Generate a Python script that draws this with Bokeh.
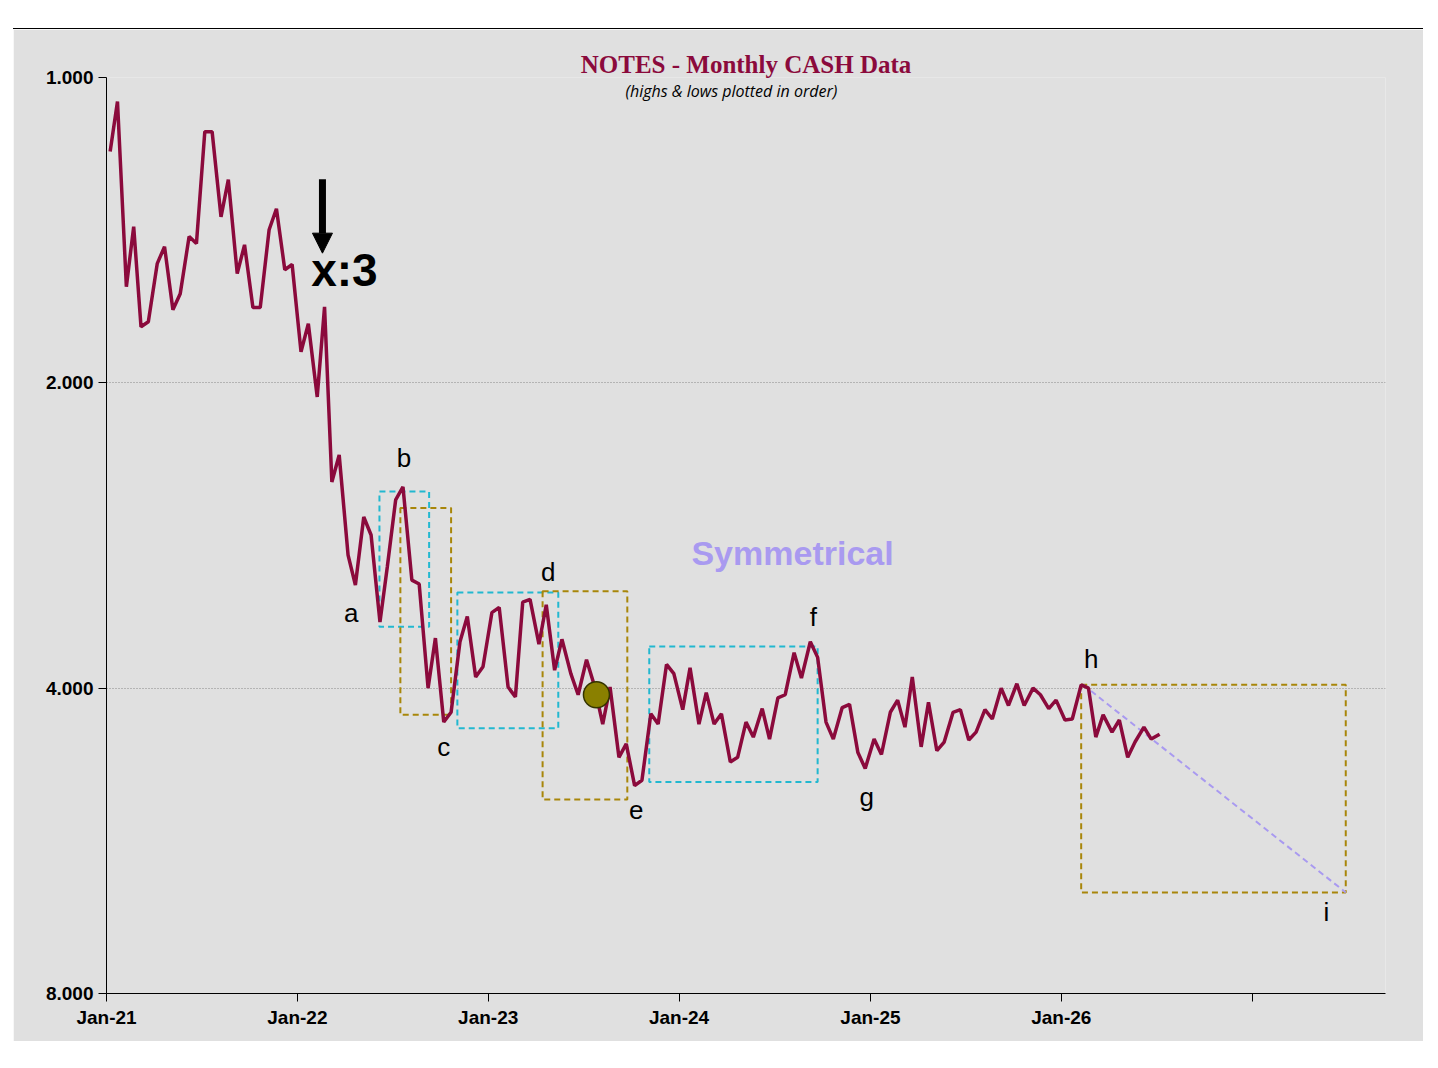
import pandas as pd
from bokeh.plotting import figure
from bokeh.layouts import column, row
from bokeh.models import Range1d, FixedTicker, Label, Arrow, NormalHead, Spacer, Title
from bokeh.embed import file_html
from bokeh.resources import INLINE

values = [1.183,1.056,1.608,1.403,1.761,1.741,1.526,1.468,1.694,1.634,1.435,1.458,1.131,1.131,1.372,1.261,
          1.561,1.462,1.686,1.686,1.413,1.347,1.547,1.529,1.864,1.749,2.065,1.683,2.505,2.356,2.957,3.165,
          2.712,2.825,3.443,3.038,2.609,2.533,3.13,3.158,4.0,3.57,4.32,4.225,3.6,3.40,3.90,3.81,
          3.37,3.33,3.99,4.08,3.29,3.27,3.62,3.31,3.84,3.58,3.87,4.06,3.75,3.96,4.34,3.99,
          4.68,4.54,4.99,4.93,4.24,4.34,3.79,3.87,4.20,3.82,4.34,4.04,4.34,4.24,4.73,4.68,
          4.32,4.47,4.19,4.49,4.09,4.06,3.69,3.91,3.60,3.73,4.32,4.49,4.18,4.15,4.63,4.80,
          4.49,4.65,4.225,4.11,4.37,3.90,4.57,4.13,4.61,4.52,4.225,4.20,4.50,4.42,4.20,4.29,
          4.0,4.16,3.96,4.16,4.0,4.06,4.19,4.11,4.30,4.29,3.97,4.0,4.47,4.25,4.42,4.30,
          4.68,4.52,4.37,4.49,4.44]
dates = list(pd.date_range("2021-01-01", periods=len(values), freq="SMS") + pd.Timedelta(days=7))

year_ticks = ["2021-01-01","2022-01-01","2023-01-01","2024-01-01","2025-01-01","2026-01-01","2027-01-01"]
year_labels = ["Jan-21","Jan-22","Jan-23","Jan-24","Jan-25","Jan-26",""]
y_ticks = [1, 2, 4, 8]
y_labels = ["1.000", "2.000", "4.000", "8.000"]

cyan_boxes = [("2022-06-07","2022-09-10",2.56,3.48),("2022-11-03","2023-05-15",3.22,4.38),("2023-11-05","2024-09-22",3.64,4.95)]
gold_boxes = [("2022-07-17","2022-10-22",2.657,4.25),("2023-04-15","2023-09-24",3.21,5.15),("2026-02-08","2027-06-29",3.97,6.36)]
letters = [("a","2022-04-14",3.37),("b","2022-07-24",2.37),("c","2022-10-08",4.57),("d","2023-04-26",3.07),
           ("e","2023-10-11",5.27),("f","2024-09-14",3.40),("g","2024-12-25",5.12),("h","2026-02-27",3.74),("i","2027-05-23",6.65)]

def ms(s):
    return pd.Timestamp(s).value / 1e6

BG = "#e0e0e0"
RED = "#8b0a3c"
p = figure(width=1410, height=1012, frame_width=1279, frame_height=915,
           x_axis_type="datetime", y_axis_type="log",
           x_range=Range1d(ms("2021-01-01"), ms("2027-09-13")), y_range=Range1d(8, 1),
           output_backend="svg", toolbar_location=None,
           background_fill_color=BG, border_fill_color=BG, outline_line_color=None,
           min_border_left=93, min_border_right=38, min_border_top=48, min_border_bottom=49,
           styles={"border-top": "1px solid black"})
p.add_layout(Title(text="NOTES - Monthly CASH Data", text_font="Liberation Serif", text_font_style="bold",
                   text_font_size="25px", align="center", text_color=RED, standoff=0, offset=0), "above")

p.xaxis.ticker = FixedTicker(ticks=[ms(t) for t in year_ticks])
p.xaxis.major_label_overrides = {ms(t): l for t, l in zip(year_ticks, year_labels)}
p.yaxis.ticker = FixedTicker(ticks=y_ticks)
p.yaxis.major_label_overrides = {t: l for t, l in zip(y_ticks, y_labels)}
for ax in (p.xaxis, p.yaxis):
    ax.axis_line_color = "black"
    ax.major_tick_line_color = "black"
    ax.minor_tick_line_color = None
    ax.major_tick_in = 0
    ax.major_tick_out = 8
    ax.major_label_text_font = "Liberation Sans"
    ax.major_label_text_font_style = "bold"
    ax.major_label_text_font_size = "19px"
    ax.major_label_text_color = "black"
p.xgrid.grid_line_color = None
p.ygrid.grid_line_color = "#888888"
p.ygrid.grid_line_dash = "1 2"

for x0, x1, y0, y1 in cyan_boxes:
    p.quad(left=ms(x0), right=ms(x1), top=y0, bottom=y1, fill_color=None, line_color="#22b8d0", line_width=2, line_dash="6 4")
for x0, x1, y0, y1 in gold_boxes:
    p.quad(left=ms(x0), right=ms(x1), top=y0, bottom=y1, fill_color=None, line_color="#a8860a", line_width=2, line_dash="6 4")

p.line([ms("2026-02-12"), ms("2027-06-29")], [3.97, 6.36], line_color="#a99af0", line_width=2, line_dash="6 4")
p.line(dates, values, line_color=RED, line_width=3.5)
p.scatter([ms("2023-07-27")], [4.06], size=26, fill_color="#8a8000", line_color="#333300", line_width=1.5)

p.add_layout(Label(x=ms("2024-04-10"), y=1.032, text="(highs & lows plotted in order)", text_font="Open Sans",
                   text_font_style="italic", text_font_size="16px", text_align="center", text_baseline="middle",
                   text_color="black"))
for t, d, v in letters:
    p.add_layout(Label(x=ms(d), y=v, text=t, text_font="Liberation Sans", text_font_size="26px",
                       text_align="center", text_baseline="middle", text_color="black"))
p.add_layout(Label(x=ms("2024-08-05"), y=2.94, text="Symmetrical", text_font="Liberation Sans", text_font_style="bold",
                   text_font_size="34px", text_align="center", text_baseline="middle", text_color="#a99af0"))
p.add_layout(Arrow(end=NormalHead(size=20, fill_color="black", line_color="black"), x_start=ms("2022-02-18"), y_start=1.26,
                   x_end=ms("2022-02-18"), y_end=1.49, line_width=7, line_color="black"))
p.add_layout(Label(x=ms("2022-04-01"), y=1.547, text="x:3", text_font="Liberation Sans", text_font_style="bold",
                   text_font_size="46px", text_align="center", text_baseline="middle", text_color="black"))

layout = row(Spacer(width=13), column(Spacer(width=1410, height=28), p))
open("out.html", "w").write(file_html(layout, INLINE))
